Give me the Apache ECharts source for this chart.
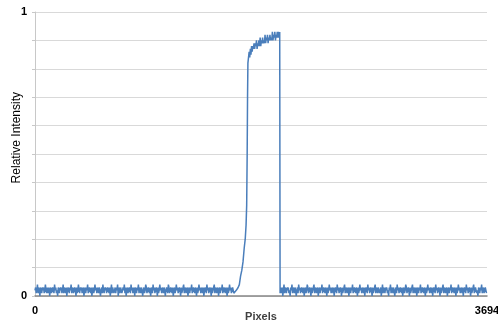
<!DOCTYPE html>
<html><head><meta charset="utf-8">
<script src="https://cdn.jsdelivr.net/npm/echarts@6/dist/echarts.min.js"></script>
<style>html,body{margin:0;padding:0;background:#fff}#c{width:498px;height:324px}</style>
</head><body><div id="c"></div>
<script>
// Left baseline noise (hundredths), x from 0 step 5
var leftStart = 0, leftStep = 5;
var leftNoise = [2,3,1,2,4,1,3,2,0,3,2,1,3,2,3,1,2,4,2,1,
3,1,2,3,0,2,3,1,2,3,2,1,4,2,3,1,2,0,3,2,
1,3,2,3,1,2,4,1,3,2,1,3,0,2,3,2,1,3,2,4,
1,2,3,1,2,3,2,0,3,1,2,4,2,1,3,2,3,1,2,3,
0,2,3,1,3,2,4,1,2,3,2,1,3,0,2,3,1,2,4,2,
3,1,2,3,1,3,2,0,2,3,1,4,2,1,3,2,3,1,2,3,
2,1,3,0,2,4,1,3,2,1,2,3,1,3,2,4,0,2,3,1,
3,2,1,2,3,2,4,1,3,0,2,3,1,2,3,2,1,4,2,3,
1,2,3,0,3,2,1,3,2,4,1,2,3,1,3,2,0,2,3,1,
2,4,3,1,2,3,2,1,3,0,2,3,1,4,2,3,1,2,3,2,
0,3,1,2,4,2,3,1,2,3,1,3,2,0,2,3,2,1,4,3,
1,2,3,2,1,3,0,2,3,1,2,4,2,3,1,2,3,2,0,3,
1,2,3,4,1,2,3,1,2,3,0,2,3,1,3,2,4,1,2,3,
2,1,3,2,0,3,1,2,4,2,3,1,2,3,1,3,0,2,3,2,
1,4,2,3,1,2,3,2,0,3,1,2,3,4,1,2,3,1,2,3,
0,2,3,1,3,2,4,1,2,3,2,1,3,2,0,3,1,2,4,2,
3,1,2,3,2,1];
// Rise region
var riseX = [1630,1645,1660,1670,1680,1690,1700,1710,1718,1725,1730,1734,1737,1740];
var riseY = [0.01,0.02,0.03,0.04,0.07,0.09,0.12,0.17,0.20,0.25,0.32,0.50,0.70,0.82];
// Plateau, x from 1745 step 5
var plateauStart = 1745, plateauStep = 5;
var plateauY = [0.84,0.86,0.84,0.87,0.85,0.88,0.86,0.88,0.87,0.89,0.87,0.89,0.88,0.90,0.87,0.89,0.88,0.90,0.88,0.91,0.88,0.90,0.89,0.91,0.89,0.90,0.89,0.92,0.89,0.91,0.90,0.92,0.89,0.91,0.90,0.92,0.90,0.91,0.90,0.93,0.90,0.92,0.91,0.93,0.90,0.92,0.91,0.93,0.91,0.93,0.91,0.93];
// Drop
var dropX = [2003];
var dropY = [0.01];
// Right baseline noise (hundredths), x from 2005 step 5
var rightStart = 2005, rightStep = 5;
var rightNoise = [3,1,2,3,0,2,4,1,3,2,1,3,2,3,1,2,0,3,2,4,
1,2,3,1,3,2,0,2,3,1,4,2,3,1,2,3,2,1,3,0,
2,3,1,2,4,3,1,2,3,2,0,3,1,2,3,4,1,2,3,1,
2,3,0,2,3,1,3,2,4,1,2,3,2,1,3,2,0,3,1,2,
4,2,3,1,2,3,1,3,0,2,3,2,1,4,2,3,1,2,3,2,
0,3,1,2,3,4,1,2,3,1,2,3,0,2,3,1,3,2,4,1,
2,3,2,1,3,2,0,3,1,2,4,2,3,1,2,3,1,3,0,2,
3,2,1,4,2,3,1,2,3,2,0,3,1,2,3,4,1,2,3,1,
3,2,1,2,3,0,2,4,1,3,2,1,3,2,3,1,2,0,3,2,
4,1,2,3,1,3,2,0,2,3,1,4,2,3,1,2,3,2,1,3,
0,2,3,1,2,4,3,1,2,3,2,0,3,1,2,3,4,1,2,3,
1,2,3,0,2,3,1,3,2,4,1,2,3,2,1,3,2,0,3,1,
2,4,2,3,1,2,3,1,3,0,2,3,2,1,4,2,3,1,2,3,
2,0,3,1,2,3,4,1,2,3,1,2,3,0,2,3,1,3,2,4,
1,2,3,2,1,3,2,0,3,1,2,4,2,3,1,2,3,1,3,0,
2,3,2,1,4,2,3,1,2,3,2,0,3,1,2,3,4,1,2,3,
3,1,2,0,3,2,1,3,2,4,1,2,3,1,2,3,2,1,3,2];
var xTicks = [0, 3694];
var yTicks = [0, 1];

var data = [];
leftNoise.forEach(function(v,i){ var x = leftStart + i*leftStep; if (x < riseX[0]) data.push([x, v/100]); });
riseX.forEach(function(x,i){ data.push([x, riseY[i]]); });
plateauY.forEach(function(v,i){ data.push([plateauStart + i*plateauStep, v]); });
dropX.forEach(function(x,i){ data.push([x, dropY[i]]); });
rightNoise.forEach(function(v,i){ var x = rightStart + i*rightStep; if (x <= xTicks[1]) data.push([x, v/100]); });

var chart = echarts.init(document.getElementById('c'));
chart.setOption({
  animation: false,
  grid: {left: 35, right: 11, top: 12, bottom: 28, containLabel: false, outerBoundsMode: 'none'},
  graphic: [{
    type: 'text', left: 11, top: 92, rotation: Math.PI / 2,
    style: {text: 'Relative Intensity', fontFamily: 'Liberation Sans', fontSize: 12, fill: '#000'}
  }],
  xAxis: {
    type: 'value', min: xTicks[0], max: xTicks[1], interval: xTicks[1],
    name: 'Pixels', nameLocation: 'middle', nameGap: 15, nameMoveOverlap: false,
    nameTextStyle: {fontFamily: 'Liberation Sans', fontSize: 11, fontWeight: 'bold', color: '#404040'},
    axisLine: {lineStyle: {color: '#868686', width: 1.5}},
    axisTick: {show: false},
    splitLine: {show: false},
    axisLabel: {fontFamily: 'Liberation Sans', fontSize: 11, color: '#000', margin: 9, fontWeight: 'bold',
      formatter: function(v){ return String(v); }}
  },
  yAxis: {
    type: 'value', min: yTicks[0], max: yTicks[1], interval: 0.1,
    axisLine: {show: true, lineStyle: {color: '#c8c8c8'}},
    axisTick: {show: true, length: 3, lineStyle: {color: '#c8c8c8'}},
    splitLine: {lineStyle: {color: '#d9d9d9'}},
    axisLabel: {
      fontFamily: 'Liberation Sans', fontSize: 11, color: '#000', margin: 8, fontWeight: 'bold',
      formatter: function(v){ return (Math.abs(v - yTicks[0]) < 1e-9 || Math.abs(v - yTicks[1]) < 1e-9) ? String(Math.round(v)) : ''; }
    }
  },
  series: [{
    type: 'line', data: data, showSymbol: false, symbol: 'none',
    lineStyle: {color: '#4a7ebb', width: 1.5}
  }]
});
</script></body></html>
